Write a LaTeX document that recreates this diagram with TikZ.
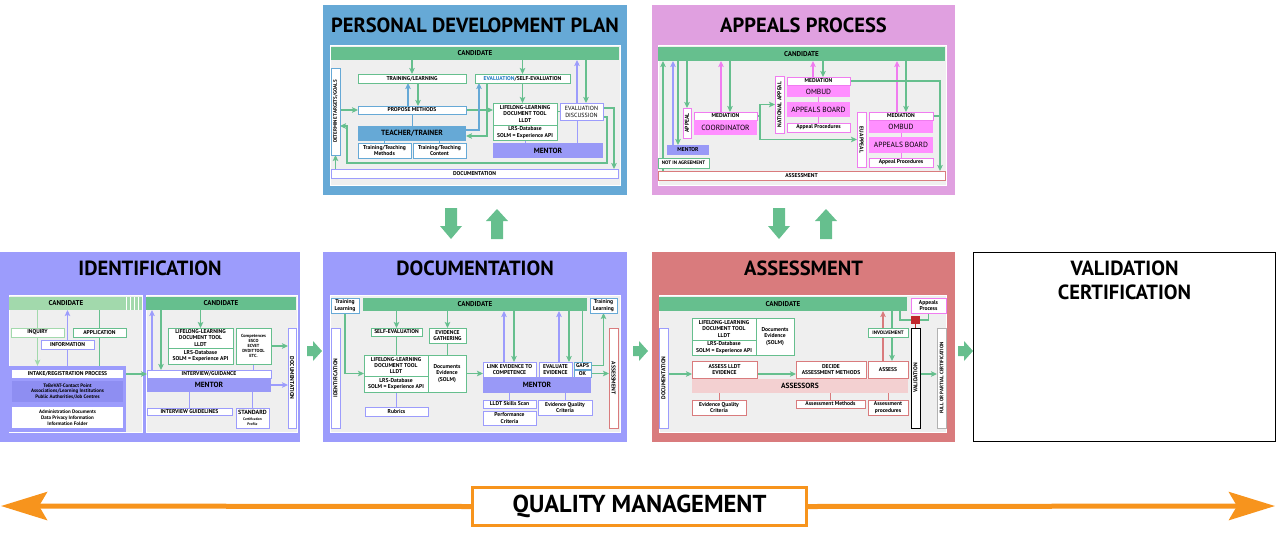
\documentclass[tikz,border=0pt]{standalone}
\usepackage{fontspec}
\setmainfont{PT Sans}
\usetikzlibrary{fit,arrows.meta}
\definecolor{cgreen}{HTML}{66BF8E}
\definecolor{clgreen}{HTML}{A2D9AC}
\definecolor{cblue}{HTML}{66A9D6}
\definecolor{cbluet}{HTML}{1F78C0}
\definecolor{cpink}{HTML}{E0A0E0}
\definecolor{clav}{HTML}{9C9CFC}
\definecolor{cment}{HTML}{9999F7}
\definecolor{clavd}{HTML}{8E8EF2}
\definecolor{csal}{HTML}{D97B7D}
\definecolor{cmag}{HTML}{F07CF0}
\definecolor{cmagf}{HTML}{FF8FFF}
\definecolor{cgray}{HTML}{EFEFEF}
\definecolor{clpink}{HTML}{F3D0D1}
\definecolor{cred}{HTML}{C1272D}
\definecolor{corange}{HTML}{F7941D}
\pgfdeclarelayer{back}
\pgfdeclarelayer{conn}
\pgfsetlayers{back,conn,main}
\newcommand\fsm{\fontsize{5.6}{6.3}\selectfont\bfseries}
\newcommand\fsmm{\fontsize{5}{5.8}\selectfont\bfseries}
\newcommand\ftiny{\fontsize{4.4}{5}\selectfont\bfseries}
\newcommand\fcand{\fontsize{7}{8}\selectfont\bfseries}
\newcommand\fbig{\fontsize{7.5}{8.5}\selectfont\bfseries}
\newcommand\fmed{\fontsize{7.5}{8.5}\selectfont}
\newcommand\fttl{\fontsize{20.5}{22}\selectfont\bfseries}
\newcommand\fqm{\fontsize{24.5}{26}\selectfont\bfseries}
\tikzset{
  bx/.style={draw, line width=0.8pt, fill=white, inner sep=0pt, outer sep=0pt, align=center, font=\fsm, text=black},
  gbd/.style={draw=cgreen},
  lgbd/.style={draw=clgreen},
  bbd/.style={draw=cblue},
  lbd/.style={draw=clav},
  mbd/.style={draw=cmag},
  sbd/.style={draw=csal},
  kbd/.style={draw=black, line width=1pt},
  gybd/.style={draw=gray!60},
  nobd/.style={draw=none},
  cand/.style={draw=none, fill=cgreen, font=\fcand},
  lcand/.style={draw=none, fill=clgreen, font=\fcand},
  bfill/.style={draw=none, fill=cblue, font=\fbig},
  lfill/.style={draw=none, fill=cment, font=\fbig},
  lfillb/.style={draw=none, fill=clavd, font=\fsmm},
  mfill/.style={draw=none, fill=cmagf, font=\fmed},
  asfill/.style={draw=none, fill=clpink, font=\fbig},
  ar/.style={line width=1.1pt, -{Stealth[length=6pt,width=5.5pt,inset=1.2pt]}},
  ga/.style={ar, color=cgreen},
  lga/.style={ar, color=clgreen},
  la/.style={ar, color=clav},
  ba/.style={ar, color=cblue},
  ma/.style={ar, color=cmag},
  sa/.style={ar, color=csal},
  gl/.style={line width=1.1pt, color=cgreen},
  ll/.style={line width=0.8pt, color=clav},
  bl/.style={line width=0.8pt, color=cblue},
  ml/.style={line width=0.8pt, color=cmag},
  sl/.style={line width=0.8pt, color=csal},
  blk/.style={fill=cgreen},
  qa/.style={color=corange, line width=5pt, -{Stealth[length=46pt,width=28pt,inset=8pt]}},
}
% \bx[style]{name}{x1}{y1}{x2}{y2}{text}
\newcommand\bx[7][]{\node[bx,#1,minimum width={#5-#3},minimum height={#6-#4}] (#2) at ({(#3+#5)/2},{(#4+#6)/2}) {#7};}
% \vbx[style]{name}{x1}{y1}{x2}{y2}{text}{angle}
\newcommand\vbx[8][]{\node[bx,#1,minimum width={#5-#3},minimum height={#6-#4}] (#2) at ({(#3+#5)/2},{(#4+#6)/2}) {}; \node[font=\fsm,rotate=#8,inner sep=0pt] (#2t) at (#2.center) {#7};}
\newcommand\panel[4]{\begin{pgfonlayer}{back}\node[fill=#2, inner sep=0pt, outer sep=0pt, fit={(#3)(#4)}] (#1) {};\end{pgfonlayer}}
\newcommand\inarea[3]{\begin{pgfonlayer}{back}\node[fill=cgray, draw=white, line width=0.8pt, inner sep=0pt, outer sep=0pt, fit={(#2)(#3)}] (#1) {};\end{pgfonlayer}}
\begin{document}
\begin{tikzpicture}[x=1pt,y=-1pt]
\useasboundingbox (0,0) rectangle (1276,539);

%================ PERSONAL DEVELOPMENT PLAN
\panel{pdp}{cblue}{323,5}{627,195}
\node[font=\fttl] (pdpt) at (475,25.5) {PERSONAL DEVELOPMENT PLAN};
\inarea{pdpin}{330,45}{620,185}
\bx[cand]{pdpcand}{331}{47}{619}{60}{CANDIDATE}
\bx[lbd]{pdpdoc}{331}{169}{618}{178}{DOCUMENTATION}
\vbx[bbd]{det}{331}{68}{340}{155}{\fsmm DETERMINE TARGETS/GOALS}{90}
\bx[gbd]{tl}{358}{74}{466}{83}{TRAINING/LEARNING}
\bx[bbd]{pm}{358}{106}{466}{114}{PROPOSE METHODS}
\bx[bfill]{tt}{358}{126}{466}{141}{TEACHER/TRAINER}
\bx[bbd]{ttm}{358}{143}{411}{158}{Training/Teaching\\Methods}
\bx[bbd]{ttc}{413}{143}{466}{158}{Training/Teaching\\Content}
\bx[gbd]{ev}{475}{74}{570}{83}{\textcolor{cbluet}{EVALUATION}/SELF-EVALUATION}
\bx[gbd]{lldt1}{493}{103}{557}{125}{LIFELONG-LEARNING\\DOCUMENT TOOL\\LLDT}
\bx[gbd]{lrs1}{493}{125}{557}{140}{LRS-Database\\SOLM = Experience API}
\bx[lbd,font=\fontsize{6}{7}\selectfont]{evd}{560}{103}{603}{120}{EVALUATION\\DISCUSSION}
\bx[lfill]{men1}{493}{143}{603}{158}{MENTOR}
\begin{pgfonlayer}{conn}
\draw[ga] (tl.north |- pdpcand.south) -- (tl.north);
\draw[ba] ([xshift=-4pt]pm.north) -- ([xshift=-4pt]tl.south);
\draw[ga] ([xshift=6pt]tl.south) -- ([xshift=6pt]pm.north);
\draw[bl] (pm.south) -- (pm.south |- tt.north);
\draw[bl] (ttm.north |- tt.south) -- (ttm.north);
\draw[bl] (ttc.north |- tt.south) -- (ttc.north);
\draw[ga] (det.east |- pm.west) -- (pm.west);
\draw[ga] (det.south |- pdpdoc.north) -- (det.south);
\draw[ga] (pm.east) -- (pm.east -| lldt1.west);
\draw[ba] ([yshift=3.5pt]tt.east) -| ([xshift=4pt]ev.south west);
\draw[ga] ([xshift=12pt]ev.south west) |- ([yshift=-2.5pt]tt.east);
\draw[ga] (ev.north |- pdpcand.south) -- (ev.north);
\draw[ga] (ev.south) -- (ev.south |- lldt1.north);
\draw[gl] (lldt1.east |- evd.west) -- (evd.west);
\draw[ll] (lrs1.south) -- (lrs1.south |- men1.north);
\draw[ll] ([xshift=-4.5pt]evd.south) -- ([xshift=-4.5pt]evd.south |- men1.north);
\draw[la] ([xshift=-4.5pt]evd.north) -- ([xshift=-4.5pt]evd.north |- pdpcand.south);
\draw[ga] ([xshift=4.5pt]evd.north |- pdpcand.south) -- ([xshift=4.5pt]evd.north);
\draw[ga] ([yshift=3.5pt]evd.east) -| ([xshift=-4pt]pdpdoc.north east);
\draw[ga] ([yshift=-5.5pt]evd.east) -- ++(4,0) -- ++(0,46) -- ++(-260,0) -- ++(0,-37) -- ++(-7,0);
\end{pgfonlayer}

%================ APPEALS PROCESS
\panel{app}{cpink}{652,5}{955,195}
\node[font=\fttl] (appt) at (803.5,25.5) {APPEALS PROCESS};
\inarea{appin}{658,45}{946,185}
\bx[cand]{appcand}{658}{47}{945}{61}{CANDIDATE}
\bx[sbd]{appass}{658}{171}{945}{180}{ASSESSMENT}
\bx[gbd,font=\fsmm]{nia}{658}{158}{709}{168}{NOT IN AGREEMENT}
\bx[lfill,font=\fsm]{men2}{667}{145}{709}{155}{MENTOR}
\vbx[mbd]{apl}{683}{108}{691}{138}{APPEAL}{90}
\bx[mbd]{med1}{694}{112}{757}{120}{MEDIATION}
\bx[mfill]{coord}{694}{120}{757}{135}{COORDINATOR}
\vbx[mbd]{napl}{775}{76}{784}{133}{NATIONAL APPEAL}{90}
\bx[mbd]{med2}{787}{77}{850}{85}{MEDIATION}
\bx[mfill]{omb2}{787}{86}{850}{97}{OMBUD}
\bx[mfill]{ab2}{787}{102}{850}{117}{APPEALS BOARD}
\bx[mbd]{ap2}{787}{123}{850}{132}{Appeal Procedures}
\vbx[mbd]{eapl}{857}{112}{866}{167}{EU APPEAL}{-90}
\bx[mbd]{med3}{869}{112}{933}{120}{MEDIATION}
\bx[mfill]{omb3}{869}{121}{933}{133}{OMBUD}
\bx[mfill]{ab3}{869}{137}{933}{153}{APPEALS BOARD}
\bx[mbd]{ap3}{869}{158}{933}{167}{Appeal Procedures}
\coordinate (apr) at ([xshift=-5pt]appass.north east);
\begin{pgfonlayer}{conn}
\draw[ga] ([xshift=5pt]appass.north west) -- ([xshift=5pt]appcand.south west);
\draw[la] ([xshift=6pt]men2.north west) -- ([xshift=6pt]men2.north west |- appcand.south);
\draw[ga] ([xshift=11pt]men2.north west |- appcand.south) -- ([xshift=11pt]men2.north west);
\draw[ga] (apl.north |- appcand.south) -- (apl.north);
\draw[ma] ([xshift=-4.5pt]med1.north) -- ([xshift=-4.5pt]med1.north |- appcand.south);
\draw[ga] ([xshift=4.5pt]med1.north |- appcand.south) -- ([xshift=4.5pt]med1.north);
\draw[ga] (med1.east) -- ++(3,0) |- (napl.west);
\draw[ga] ([xshift=3pt]med1.east) |- (eapl.west);
\draw[ma] ([xshift=-5.5pt]med2.north) -- ([xshift=-5.5pt]med2.north |- appcand.south);
\draw[ga] ([xshift=4.5pt]med2.north |- appcand.south) -- ([xshift=4.5pt]med2.north);
\draw[ml] (omb2.south) -- (ab2.north);
\draw[ml] (ab2.south) -- (ap2.north);
\draw[ma] ([xshift=-4pt]med3.north) -- ([xshift=-4pt]med3.north |- appcand.south);
\draw[ga] ([xshift=5pt]med3.north |- appcand.south) -- ([xshift=5pt]med3.north);
\draw[ml] (omb3.south) -- (ab3.north);
\draw[ml] (ab3.south) -- (ap3.north);
\draw[ga] (med2.east) -| (apr);
\draw[gl] (med3.east) -- (med3.east -| apr);
\end{pgfonlayer}

%================ IDENTIFICATION
\panel{idp}{clav}{0,252}{300,442}
\node[font=\fttl] (idt) at (150,268.5) {IDENTIFICATION};
\inarea{idin1}{9,295}{142,432}
\inarea{idin2}{146,295}{297,432}
\bx[lcand]{idcand1}{9}{297}{123}{310}{CANDIDATE}
\node[fill=clgreen, inner sep=0pt, fit={(123,297)(142,310)}] (strp) {};
\foreach \sx in {126,130,134,138} \draw[white, line width=0.9pt] (\sx,297) -- (\sx,310);
\bx[lgbd]{inq}{11}{328}{64}{337}{INQUIRY}
\bx[gbd]{appl}{73}{328}{126}{337}{APPLICATION}
\bx[lbd]{info}{41}{340}{94}{349}{INFORMATION}
\node[fill=clav, inner sep=0pt, fit={(9,366)(126,432)}] (intk) {};
\bx[nobd]{intake}{12}{370}{123}{378}{INTAKE/REGISTRATION PROCESS}
\bx[lfillb]{tcp}{12}{381}{123}{402}{TeBeVAT-Contact Point\\Associations/Learning Institutions\\Public Authorities/Job Centres}
\bx[nobd,font=\fsmm]{adm}{12}{407}{123}{428}{Administration Documents\\Data Privacy Information\\Information Folder}
\bx[cand]{idcand2}{146}{297}{296}{310}{CANDIDATE}
\bx[gbd]{lldt2}{168}{328}{233}{348}{LIFELONG-LEARNING\\DOCUMENT TOOL\\LLDT}
\bx[gbd]{lrs2}{168}{348}{233}{364}{LRS-Database\\SOLM = Experience API}
\bx[gbd,font=\ftiny]{comp}{236}{328}{271}{364}{Competences\\ESCO\\ECVET\\DVDITTOOL\\ETC.}
\bx[lbd]{ig}{147}{370}{271}{378}{INTERVIEW/GUIDANCE}
\bx[lfill]{men3}{147}{378}{271}{392}{MENTOR}
\vbx[lbd]{iddoc}{288}{328}{296}{428}{DOCUMENTATION}{-90}
\bx[lbd]{igl}{147}{408}{232}{415}{INTERVIEW GUIDELINES}
\bx[lbd,font=\fontsize{6}{6.5}\selectfont\bfseries]{std}{236}{408}{269}{428}{STANDARD\\[-0.5pt]{\fontsize{3.6}{4}\selectfont Certification}\\[-1.5pt]{\fontsize{3.6}{4}\selectfont Profile}}
\begin{pgfonlayer}{conn}
\draw[lga] (inq.north |- idcand1.south) -- (inq.south |- intk.north);
\draw[la] (info.south |- intk.north) -- (info.north |- idcand1.south);
\draw[gl] (appl.north |- idcand1.south) -- (appl.south |- intk.north);
\draw[ga] (intake.east) -- (ig.west);
\draw[la] ([xshift=5pt]ig.north west) -- ([xshift=5pt]ig.north west |- idcand2.south);
\draw[ga] ([xshift=14pt]ig.north west |- idcand2.south) -- ([xshift=14pt]ig.north west);
\draw[ga] (lldt2.north |- idcand2.south) -- (lldt2.north);
\draw[ga] (comp.east) -- (comp.east -| iddoc.west);
\draw[la] (men3.east) -- (men3.east -| iddoc.west);
\draw[ll] (comp.south) -- (comp.south |- ig.north);
\draw[ll] (igl.north |- men3.south) -- (igl.north);
\draw[ll] (std.north |- men3.south) -- (std.north);
\end{pgfonlayer}

%================ DOCUMENTATION
\panel{docp}{clav}{323,252}{627,442}
\node[font=\fttl] (doct) at (475,268.5) {DOCUMENTATION};
\inarea{docin}{330,295}{620,432}
\bx[bbd]{tl2}{331}{298}{359}{313}{Training\\Learning}
\bx[cand]{doccand}{363}{298}{587}{311}{CANDIDATE}
\bx[bbd]{tl3}{590}{298}{617}{313}{Training\\Learning}
\vbx[lbd]{docid}{331}{328}{340}{428}{IDENTIFICATION}{90}
\bx[gbd]{se}{371}{328}{422}{336}{SELF-EVALUATION}
\bx[gbd]{eg}{429}{328}{466}{343}{EVIDENCE\\GATHERING}
\bx[gbd]{lldt3}{364}{355}{428}{376}{LIFELONG-LEARNING\\DOCUMENT TOOL\\LLDT}
\bx[gbd]{lrs3}{364}{376}{428}{392}{LRS-Database\\SOLM = Experience API}
\bx[gbd]{de3}{428}{355}{466}{392}{Documents\\Evidence\\(SOLM)}
\bx[lbd]{rub}{365}{407}{428}{416}{Rubrics}
\bx[lbd]{lec}{483}{362}{536}{377}{LINK EVIDENCE TO\\COMPETENCE}
\bx[lbd]{eve}{539}{362}{572}{377}{EVALUATE\\EVIDENCE}
\bx[bbd]{gaps}{574}{362}{591}{369}{GAPS}
\bx[bbd]{ok}{574}{370}{591}{377}{OK}
\bx[lfill]{men4}{483}{377}{591}{393}{MENTOR}
\vbx[sbd]{docass}{609}{328}{618}{428}{ASSESSMENT}{-90}
\bx[lbd]{lss}{483}{400}{536}{408}{LLDT Skills Scan}
\bx[lbd]{pc}{483}{411}{536}{425}{Performance\\Criteria}
\bx[lbd]{eqc}{538}{400}{592}{415}{Evidence Quality\\Criteria}
\begin{pgfonlayer}{conn}
\draw[ga] (tl2.south) |- ([yshift=-8pt]lldt3.west);
\draw[ga] (se.north |- doccand.south) -- (se.north);
\draw[gl] (se.south) -- (se.south |- lldt3.north);
\draw[ga] (eg.north |- doccand.south) -- (eg.north);
\draw[gl] (eg.south) -- (eg.south |- de3.north);
\draw[ga] (de3.east) -- (de3.east -| lec.west);
\draw[ll] (lrs3.south) -- (lrs3.south |- rub.north);
\draw[la] ([xshift=-5.5pt]lec.north) -- ([xshift=-5.5pt]lec.north |- doccand.south);
\draw[ga] ([xshift=4.5pt]lec.north |- doccand.south) -- ([xshift=4.5pt]lec.north);
\draw[la] ([xshift=3.5pt]eve.north) -- ([xshift=3.5pt]eve.north |- doccand.south);
\draw[ga] ([xshift=13.5pt]eve.north |- doccand.south) -- ([xshift=13.5pt]eve.north);
\draw[gl] (gaps.north |- doccand.south) -- (gaps.north);
\draw[ga] (gaps.east) -| (tl3.south);
\draw[ga] (ok.east) -- (ok.east -| docass.west);
\draw[ll] (lss.north |- men4.south) -- (lss.north);
\draw[ll] (eqc.north |- men4.south) -- (eqc.north);
\end{pgfonlayer}

%================ ASSESSMENT
\panel{asp}{csal}{652,252}{955,442}
\node[font=\fttl] (ast) at (803.5,268.5) {ASSESSMENT};
\inarea{asin}{659,295}{946,432}
\bx[cand]{acand}{659}{297}{907}{311}{CANDIDATE}
\bx[mbd]{apbox}{911}{298}{946}{313}{Appeals\\Process}
\vbx[lbd]{adoc}{659}{328}{668}{428}{DOCUMENTATION}{90}
\bx[gbd]{lldt4}{692}{318}{756}{340}{LIFELONG-LEARNING\\DOCUMENT TOOL\\LLDT}
\bx[gbd]{lrs4}{692}{340}{756}{355}{LRS-Database\\SOLM = Experience API}
\bx[gbd]{de4}{756}{318}{794}{355}{Documents\\Evidence\\(SOLM)}
\bx[sbd]{asl}{692}{361}{757}{378}{ASSESS LLDT\\EVIDENCE}
\bx[asfill]{assr}{692}{379}{908}{393}{ASSESSORS}
\bx[sbd]{dam}{796}{361}{866}{378}{DECIDE\\ASSESSMENT METHODS}
\bx[sbd]{ass}{868}{361}{908}{378}{ASSESS}
\bx[sbd]{eqc2}{692}{400}{746}{415}{Evidence Quality\\Criteria}
\bx[sbd]{am}{796}{400}{865}{408}{Assessment Methods}
\bx[sbd]{ap}{868}{400}{908}{415}{Assessment\\procedures}
\bx[gbd,font=\fsmm]{inv}{868}{328}{908}{337}{INVOLVEMENT}
\node[fill=cred, inner sep=0pt, fit={(911,316)(920,324)}] (rsq) {};
\vbx[kbd]{val}{911}{328}{920}{428}{VALIDATION}{90}
\vbx[gybd]{fpc}{937}{328}{946}{428}{\fsmm FULL OR PARTIAL CERTIFICATION}{90}
\coordinate (t1) at ([yshift=-4.5pt]asl.west);
\begin{pgfonlayer}{conn}
\draw[ga] (adoc.east |- t1) -- (t1);
\draw[ga] (asl.east |- t1) -- (dam.west |- t1);
\draw[sa] ([xshift=-5pt]ass.north) -- ([xshift=-5pt]ass.north |- acand.south);
\draw[ga] ([xshift=4pt]ass.north |- acand.south) -- ([xshift=4pt]ass.north);
\draw[gl] ([xshift=-7pt]acand.south east) |- (rsq.west);
\draw[gl] (apbox.south) |- (rsq.east);
\draw[cred, line width=1pt] (rsq.south) -- (val.north);
\draw[sl] (eqc2.north |- assr.south) -- (eqc2.north);
\draw[sl] (am.north |- assr.south) -- (am.north);
\draw[sl] (ap.north |- assr.south) -- (ap.north);
\draw[ga] (val.east |- t1) -- (fpc.west |- t1);
\end{pgfonlayer}

%================ VALIDATION CERTIFICATION
\node[draw=black, line width=1.2pt, fill=white, inner sep=0pt, fit={(973.6,252.6)(1275.4,441.4)}] (valp) {};
\node[font=\fttl] (valt1) at (1124.5,268.5) {VALIDATION};
\node[font=\fttl] (valt2) at (1124.5,292.5) {CERTIFICATION};

%================ block arrows
\fill[blk] (445,208) -- ++(12,0) -- ++(0,18) -- ++(5,0) -- (451,239) -- ++(-11,-13) -- ++(5,0) -- cycle;
\fill[blk] (491,239) -- ++(12,0) -- ++(0,-18) -- ++(5,0) -- (497,209) -- ++(-11,12) -- ++(5,0) -- cycle;
\fill[blk] (773,208) -- ++(12,0) -- ++(0,18) -- ++(5,0) -- (779,239) -- ++(-11,-13) -- ++(5,0) -- cycle;
\fill[blk] (820,239) -- ++(12,0) -- ++(0,-18) -- ++(5,0) -- (826,209) -- ++(-11,12) -- ++(5,0) -- cycle;
\foreach \ax in {307,633,958}
  \fill[blk] (\ax,346) -- ++(6,0) -- ++(0,-5) -- ++(9,10) -- ++(-9,10) -- ++(0,-5) -- ++(-6,0) -- cycle;

%================ QUALITY MANAGEMENT
\coordinate (qL) at (1,506);
\coordinate (qR) at (1275,506);
\bx[draw=corange, line width=3.5pt, font=\fqm]{qm}{472.5}{487.5}{806.5}{525.5}{QUALITY MANAGEMENT}
\draw[qa] (qm.west) -- (qL);
\draw[qa] (qm.east) -- (qR);
\end{tikzpicture}
\end{document}
